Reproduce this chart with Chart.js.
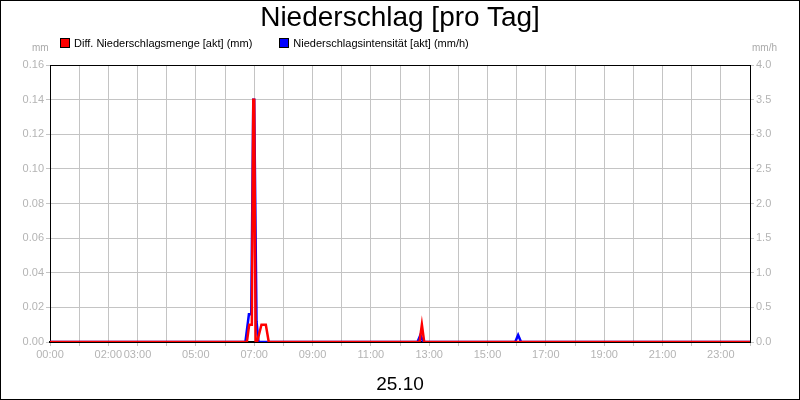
<!DOCTYPE html>
<html>
<head>
<meta charset="utf-8">
<script src="https://cdn.jsdelivr.net/npm/chart.js@4"></script>
<style>
  body { margin: 0; background: #fff; font-family: "Liberation Sans", Arial, sans-serif; }
  #wrap { position: relative; width: 800px; height: 400px; }
  #frame { position: absolute; left: 0; top: 0; width: 800px; height: 400px; box-sizing: border-box; border: 1px solid #000; pointer-events: none; }
  .txt { position: absolute; white-space: nowrap; }
  #title { left: 0; width: 800px; text-align: center; top: 1px; font-size: 28px; }
  .unit { top: 42px; font-size: 10px; color: #aaa; }
  #legend { top: 37px; left: 60px; font-size: 11px; }
  .box { display: inline-block; width: 8px; height: 8px; border: 1px solid #000; margin-right: 4px; vertical-align: -1px; }
</style>
</head>
<body>
<div id="wrap">
  <canvas id="rainChart" width="800" height="400"></canvas>
  <div class="txt" id="title">Niederschlag [pro Tag]</div>
  <div class="txt unit" style="left:32px">mm</div>
  <div class="txt unit" style="left:752px">mm/h</div>
  <div class="txt" id="legend"><span class="box" style="background:#f00"></span>Diff. Niederschlagsmenge [akt] (mm)<span style="display:inline-block;width:27px"></span><span class="box" style="background:#00f"></span>Niederschlagsintensität [akt] (mm/h)</div>
  <div id="frame"></div>
</div>
<script>
// time in hours since 00:00
const amountTimes = [0, 6.75, 6.83, 6.92, 6.97, 7.0, 7.05, 7.1, 7.25, 7.4, 7.5, 12.67, 12.75, 12.83, 24];
const amountValues = [0, 0, 0.01, 0.01, 0.14, 0.14, 0, 0, 0.01, 0.01, 0, 0, 0.01, 0, 0];
const intensityTimes = [0, 6.7, 6.82, 6.9, 6.97, 7.0, 7.08, 7.15, 12.6, 12.7, 12.8, 15.95, 16.05, 16.15, 24];
const intensityValues = [0, 0, 0.4, 0.4, 3.5, 3.5, 0.3, 0, 0, 0.1, 0, 0, 0.1, 0, 0];
const tickLabels = { 0: '00:00', 2: '02:00', 3: '03:00', 5: '05:00', 7: '07:00', 9: '09:00', 11: '11:00',
  13: '13:00', 15: '15:00', 17: '17:00', 19: '19:00', 21: '21:00', 23: '23:00' };

const toPoints = (xs, ys) => xs.map((x, i) => ({ x, y: ys[i] }));
const tickColor = '#b4b4b4';
const gridColor = '#c4c4c4';

new Chart(document.getElementById('rainChart'), {
  type: 'line',
  data: {
    datasets: [
      {
        label: 'Diff. Niederschlagsmenge [akt] (mm)',
        data: toPoints(amountTimes, amountValues),
        borderColor: '#ff0000',
        borderWidth: 2.5,
        pointRadius: 0,
        yAxisID: 'y',
        order: 0
      },
      {
        label: 'Niederschlagsintensität [akt] (mm/h)',
        data: toPoints(intensityTimes, intensityValues),
        borderColor: '#0000ff',
        borderWidth: 2.5,
        pointRadius: 0,
        yAxisID: 'y1',
        order: 1
      }
    ]
  },
  options: {
    responsive: false,
    animation: false,
    layout: { padding: { top: 65 } },
    plugins: { legend: { display: false }, tooltip: { enabled: false } },
    scales: {
      x: {
        type: 'linear',
        min: 0,
        max: 24,
        afterFit: s => { s.height = 58; },
        afterBuildTicks: s => { s.ticks = Array.from({ length: 25 }, (_, i) => ({ value: i })); },
        ticks: {
          autoSkip: false,
          maxRotation: 0,
          color: tickColor,
          font: { size: 11, family: 'Liberation Sans' },
          padding: 2,
          callback: v => tickLabels[v] || ''
        },
        grid: { color: gridColor, tickLength: 4, tickColor: gridColor },
        border: { color: '#000', width: 2 },
        title: { display: true, text: '25.10', color: '#000', font: { size: 19, family: 'Liberation Sans' }, padding: { top: 6 } }
      },
      y: {
        position: 'left',
        min: 0,
        max: 0.16,
        afterFit: s => { s.width = 50; },
        ticks: { stepSize: 0.02, color: tickColor, font: { size: 11, family: 'Liberation Sans' }, padding: 2,
          callback: v => v.toFixed(2) },
        grid: { color: gridColor, tickLength: 4, tickColor: gridColor },
        border: { color: '#000', width: 1 }
      },
      y1: {
        position: 'right',
        min: 0,
        max: 4,
        afterFit: s => { s.width = 50; },
        ticks: { stepSize: 0.5, color: tickColor, font: { size: 11, family: 'Liberation Sans' }, padding: 2,
          callback: v => v.toFixed(1) },
        grid: { drawOnChartArea: false, tickLength: 4, tickColor: gridColor },
        border: { color: '#000', width: 1 }
      }
    }
  },
  plugins: [{
    id: 'topBorder',
    afterDraw(chart) {
      const { ctx, chartArea: a } = chart;
      ctx.save();
      ctx.strokeStyle = '#000';
      ctx.lineWidth = 1;
      ctx.beginPath();
      ctx.moveTo(a.left, a.top + 0.5);
      ctx.lineTo(a.right, a.top + 0.5);
      ctx.stroke();
      ctx.restore();
    }
  }]
});
</script>
</body>
</html>
